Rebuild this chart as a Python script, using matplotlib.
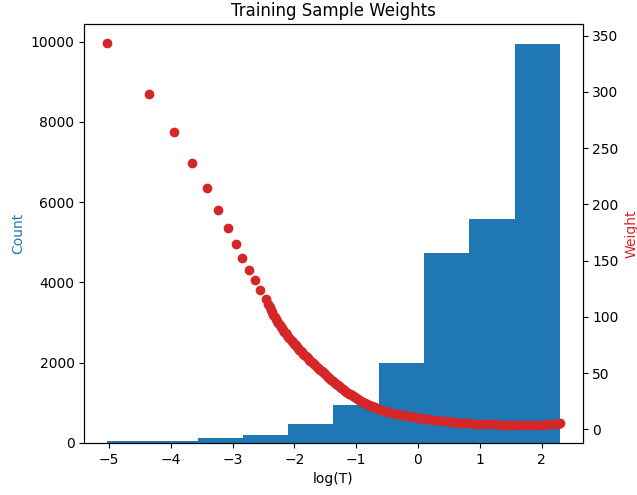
import numpy as np
import matplotlib
matplotlib.use('Agg')
import matplotlib.pyplot as plt

# histogram of log(T): bin edges and counts
bin_edges = [-5.03, -4.30, -3.56, -2.83, -2.10, -1.37, -0.63, 0.10, 0.83, 1.57, 2.30]
bin_counts = [50, 50, 125, 190, 465, 935, 2000, 4720, 5575, 9935]

# sample weight vs log(T)
log_t = [
    -5.03, -4.35, -3.95, -3.65, -3.42, -3.24, -3.08, -2.95, -2.84, -2.74,
    -2.64, -2.55, -2.46,
    -2.42, -2.40, -2.38, -2.36, -2.34, -2.32, -2.30, -2.28, -2.26, -2.24,
    -2.22, -2.20, -2.18, -2.16, -2.14, -2.12, -2.10, -2.08, -2.06, -2.04,
    -2.02, -2.00, -1.98, -1.96, -1.94, -1.92, -1.90, -1.88, -1.86, -1.84,
    -1.82, -1.80, -1.78, -1.76, -1.74, -1.72, -1.70, -1.68, -1.66, -1.64,
    -1.62, -1.60, -1.58, -1.56, -1.54, -1.52, -1.50, -1.48, -1.46, -1.44,
    -1.42, -1.40, -1.38, -1.36, -1.34, -1.32, -1.30, -1.28, -1.26, -1.24,
    -1.22, -1.20, -1.18, -1.16, -1.14, -1.12, -1.10, -1.075, -1.05, -1.025,
    -1.00, -0.975, -0.95, -0.925, -0.90, -0.875, -0.85, -0.825, -0.80, -0.775,
    -0.75, -0.70, -0.65, -0.60, -0.54, -0.48, -0.42, -0.36, -0.30, -0.24,
    -0.18, -0.12, -0.06, 0.00, 0.06, 0.12, 0.18, 0.24, 0.30, 0.36,
    0.42, 0.48, 0.54, 0.60, 0.66, 0.72, 0.78, 0.84, 0.90, 0.96,
    1.02, 1.08, 1.14, 1.20, 1.26, 1.32, 1.38, 1.44, 1.50, 1.56,
    1.62, 1.68, 1.74, 1.80, 1.86, 1.92, 1.98, 2.04, 2.10, 2.16,
    2.22, 2.26, 2.30,
]
weight = [
    343.2, 298.4, 264.1, 237.1, 214.3, 195.0, 179.3, 164.5, 152.3, 141.7,
    132.5, 123.6, 115.9,
    111.0, 108.6, 106.3, 104.1, 102.0, 100.0, 98.0, 96.2, 94.4, 92.8,
    91.2, 89.7, 88.2, 86.7, 85.3, 83.9, 82.5, 81.1, 79.8, 78.5,
    77.2, 75.9, 74.6, 73.3, 72.1, 70.9, 69.7, 68.5, 67.4, 66.3,
    65.2, 64.1, 63.1, 62.0, 61.0, 59.9, 58.9, 57.8, 56.8, 55.8,
    54.8, 53.8, 52.8, 51.8, 50.8, 49.8, 48.8, 47.8, 46.8, 45.8,
    44.9, 43.9, 43.0, 42.0, 41.1, 40.2, 39.3, 38.4, 37.5, 36.6,
    35.8, 35.0, 34.2, 33.4, 32.6, 31.8, 31.1, 30.2, 29.3, 28.4,
    27.6, 26.8, 26.0, 25.2, 24.5, 23.8, 23.1, 22.4, 21.8, 21.2,
    20.6, 19.5, 18.5, 17.6, 16.6, 15.7, 14.9, 14.1, 13.4, 12.7,
    12.1, 11.5, 10.9, 10.3, 9.8, 9.4, 9.0, 8.6, 8.2, 7.8,
    7.4, 7.1, 6.8, 6.4, 6.1, 5.8, 5.5, 5.3, 5.0, 4.9,
    4.7, 4.6, 4.5, 4.4, 4.4, 4.3, 4.3, 4.3, 4.3, 4.3,
    4.3, 4.3, 4.3, 4.3, 4.3, 4.3, 4.3, 4.3, 4.4, 4.5,
    4.8, 5.2, 5.8,
]

fig = plt.figure(figsize=(6.37, 4.95), dpi=100)
ax = fig.add_axes([0.1323, 0.1053, 0.7824, 0.8457])

ax.hist(bin_edges[:-1], bins=bin_edges, weights=bin_counts, color='tab:blue')
ax.set_xlabel('log(T)')
ax.set_ylabel('Count', color='tab:blue')
ax.set_title('Training Sample Weights')
ax.set_xlim(-5.40, 2.665)
ax.set_ylim(0, 10430)

ax2 = ax.twinx()
ax2.scatter(log_t, weight, color='tab:red')
ax2.set_ylabel('Weight', color='tab:red')
ax2.set_ylim(-12, 360)

fig.savefig('out.png', dpi=100)
